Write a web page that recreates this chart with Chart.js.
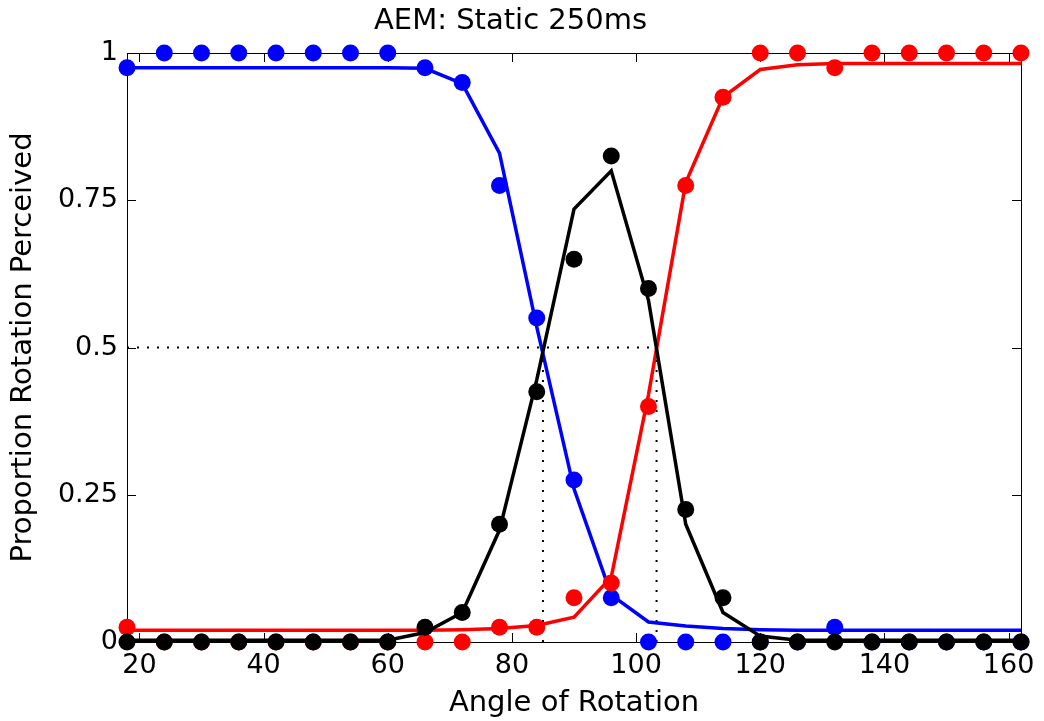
<!DOCTYPE html>
<html><head><meta charset="utf-8">
<script src="https://cdn.jsdelivr.net/npm/chart.js@4/dist/chart.umd.min.js"></script>
<style>html,body{margin:0;padding:0;background:#fff;}#wrap{width:1044px;height:721px;}</style>
</head><body><div id="wrap"><canvas id="c" width="1044" height="721"></canvas></div>
<script>
const angles = [18,24,30,36,42,48,54,60,66,72,78,84,90,96,102,108,114,120,126,132,138,144,150,156,162];
const blueObs  = [0.975,1,1,1,1,1,1,1,0.975,0.95,0.775,0.55,0.275,0.075,0,0,0,0,0,0.025,0,0,0,0,0];
const redObs   = [0.025,0,0,0,0,0,0,0,0,0,0.025,0.025,0.075,0.1,0.4,0.775,0.925,1,1,0.975,1,1,1,1,1];
const blackObs = [0,0,0,0,0,0,0,0,0.025,0.05,0.2,0.425,0.65,0.825,0.6,0.225,0.075,0,0,0,0,0,0,0,0];
const blueFit  = [0.975,0.975,0.975,0.975,0.975,0.975,0.975,0.975,0.974,0.948,0.83,0.535,0.26,0.08,0.034,0.027,0.023,0.021,0.02,0.02,0.02,0.02,0.02,0.02,0.02];
const redFit   = [0.02,0.02,0.02,0.02,0.02,0.02,0.02,0.02,0.02,0.021,0.023,0.028,0.042,0.11,0.42,0.78,0.925,0.972,0.98,0.982,0.982,0.982,0.982,0.982,0.982];
const blackFit = [0.003,0.003,0.003,0.003,0.003,0.003,0.003,0.003,0.016,0.05,0.19,0.445,0.735,0.8,0.58,0.2,0.05,0.01,0.003,0.003,0.003,0.003,0.003,0.003,0.003];
const crossAngles = [85, 103.3];
const crossLevel = 0.5;
const xTicks = [20,40,60,80,100,120,140,160];
const yTicks = [0,0.25,0.5,0.75,1];
const yTickLabels = ['0','0.25','0.5','0.75','1'];

const pts = arr => angles.map((a,i)=>({x:a,y:arr[i]}));
const FONT = 'DejaVu Sans';

const frame = {
  id:'frame',
  beforeDatasetsDraw(chart){
    const {ctx, chartArea:a, scales:{x,y}} = chart;
    ctx.save();
    ctx.strokeStyle='#000'; ctx.lineWidth=1;
    ctx.strokeRect(Math.round(a.left)+0.5, Math.round(a.top)+0.5, Math.round(a.right-a.left), Math.round(a.bottom-a.top));
    const L=9;
    ctx.beginPath();
    xTicks.forEach(v=>{const px=Math.round(x.getPixelForValue(v))+0.5;
      ctx.moveTo(px,a.bottom); ctx.lineTo(px,a.bottom-L);
      ctx.moveTo(px,a.top); ctx.lineTo(px,a.top+L);});
    yTicks.forEach(v=>{const py=Math.round(y.getPixelForValue(v))+0.5;
      ctx.moveTo(a.left,py); ctx.lineTo(a.left+L,py);
      ctx.moveTo(a.right,py); ctx.lineTo(a.right-L,py);});
    ctx.stroke();
    ctx.restore();
  }
};

const dotted = (data)=>({data, showLine:true, pointRadius:0, borderColor:'#000', borderWidth:2, borderDash:[2,8], order:9, clip:false});

new Chart(document.getElementById('c'), {
  type:'scatter',
  data:{datasets:[
    {data:pts(blackObs), pointRadius:8.5, pointBackgroundColor:'#000', pointBorderWidth:0, showLine:false, order:0, clip:false},
    {data:pts(blackFit), pointRadius:0, borderColor:'#000', borderWidth:3.5, showLine:true, order:1, clip:false},
    {data:pts(redObs), pointRadius:8.5, pointBackgroundColor:'#ff0000', pointBorderWidth:0, showLine:false, order:2, clip:false},
    {data:pts(redFit), pointRadius:0, borderColor:'#ff0000', borderWidth:3.5, showLine:true, order:3, clip:false},
    {data:pts(blueObs), pointRadius:8.5, pointBackgroundColor:'#0000ff', pointBorderWidth:0, showLine:false, order:4, clip:false},
    {data:pts(blueFit), pointRadius:0, borderColor:'#0000ff', borderWidth:3.5, showLine:true, order:5, clip:false},
    dotted([{x:angles[0],y:crossLevel},{x:crossAngles[1],y:crossLevel}]),
    dotted([{x:crossAngles[0],y:0},{x:crossAngles[0],y:crossLevel}]),
    dotted([{x:crossAngles[1],y:0},{x:crossAngles[1],y:crossLevel}])
  ]},
  options:{
    responsive:false, animation:false, devicePixelRatio:1,
    layout:{padding:{left:0,right:23,top:0,bottom:0}},
    elements:{line:{tension:0}},
    plugins:{
      legend:{display:false}, tooltip:{enabled:false},
      title:{display:true, text:'AEM: Static 250ms', color:'#000', font:{family:FONT,size:29,weight:'normal'}, padding:{top:4,bottom:14.2}}
    },
    scales:{
      x:{type:'linear', min:18, max:162,
        afterBuildTicks:s=>{s.ticks=xTicks.map(v=>({value:v}));},
        afterFit:s=>{s.height=79;},
        grid:{display:false, drawTicks:false}, border:{display:false},
        ticks:{color:'#000', font:{family:FONT,size:27}, padding:8, maxRotation:0, autoSkip:false},
        title:{display:true, text:'Angle of Rotation', color:'#000', font:{family:FONT,size:29}, padding:0}
      },
      y:{type:'linear', min:0, max:1,
        afterBuildTicks:s=>{s.ticks=yTicks.map(v=>({value:v}));},
        afterFit:s=>{s.width=127;},
        grid:{display:false, drawTicks:false}, border:{display:false},
        ticks:{color:'#000', font:{family:FONT,size:27}, padding:9, autoSkip:false,
          callback:v=>yTickLabels[yTicks.indexOf(v)]},
        title:{display:true, text:'Proportion Rotation Perceived', color:'#000', font:{family:FONT,size:29}, padding:{top:6,bottom:0}}
      }
    }
  },
  plugins:[frame]
});
</script></body></html>
